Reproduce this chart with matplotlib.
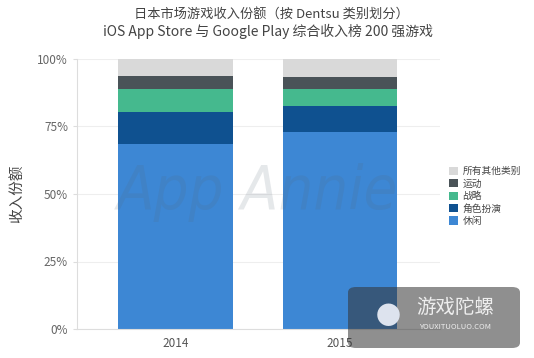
import matplotlib
matplotlib.use("Agg")
import matplotlib.pyplot as plt
from matplotlib.patches import FancyBboxPatch, Patch
from matplotlib.ticker import FuncFormatter

plt.rcParams['font.family'] = ['Noto Sans CJK SC', 'DejaVu Sans']

years = ['2014', '2015']
categories = ['休闲', '角色扮演', '战略', '运动', '所有其他类别']
casual = [68.5, 72.8]
rpg = [12.0, 9.9]
strategy = [8.4, 6.2]
sports = [4.8, 4.5]
other = [6.3, 6.6]
series = [casual, rpg, strategy, sports, other]
colors = ['#3d87d4', '#0f5190', '#45b98e', '#4a5358', '#d9d9d9']
yticks = [0, 25, 50, 75, 100]

fig = plt.figure(figsize=(5.34, 3.58), dpi=100)
W, H = 534, 358
ax = fig.add_axes([77 / W, 1 - 329 / H, (440 - 77) / W, (329 - 59) / H])

x = list(range(len(years)))
bottom = [0.0] * len(years)
for vals, col in zip(series, colors):
    ax.bar(x, vals, bottom=bottom, width=0.695, color=col, zorder=2)
    bottom = [b + v for b, v in zip(bottom, vals)]

ax.set_xlim(-0.6, 1.61)
ax.set_ylim(0, 100)
ax.set_yticks(yticks)
ax.yaxis.set_major_formatter(FuncFormatter(lambda v, p: f'{int(v)}%'))
ax.set_xticks(x)
ax.set_xticklabels(years)
ax.grid(axis='y', color='#eeeeee', linewidth=0.8, zorder=0)
for s in ['top', 'right']:
    ax.spines[s].set_visible(False)
ax.spines['left'].set_color('#dddddd')
ax.spines['bottom'].set_color('#dddddd')
ax.tick_params(axis='y', colors='#dddddd', labelcolor='#666666', labelsize=8.5, length=3)
ax.tick_params(axis='x', length=0, labelcolor='#555555', labelsize=8.5, pad=6)

fig.text(17 / W, 1 - 194 / H, '收入份额', rotation=90, ha='center', va='center',
         fontsize=10.5, color='#444444')

fig.text(271 / W, 1 - 15 / H, '日本市场游戏收入份额（按 Dentsu 类别划分）', ha='center', va='center',
         fontsize=9.5, color='#444444')
fig.text(268 / W, 1 - 31 / H, 'iOS App Store 与 Google Play 综合收入榜 200 强游戏', ha='center', va='center',
         fontsize=10, color='#444444')

# watermark
fig.text(258 / W, 1 - 193 / H, 'App Annie', ha='center', va='center', fontsize=44,
         style='italic', color='#556677', alpha=0.15, family='DejaVu Sans',
         stretch='condensed', zorder=5)

handles = [Patch(facecolor=c, edgecolor='none') for c in colors[::-1]]
leg = fig.legend(handles, categories[::-1], loc='center left', bbox_to_anchor=(445 / W, 1 - 196 / H),
                 frameon=False, fontsize=7, handlelength=0.9, handleheight=0.9,
                 handletextpad=0.5, labelspacing=0.25, borderaxespad=0)
for t in leg.get_texts():
    t.set_color('#444444')

# logo box overlay
box = FancyBboxPatch((348 / W, 1 - 348 / H), (520 - 348) / W, (348 - 287) / H,
                     boxstyle='round,pad=0,rounding_size=0.015', transform=fig.transFigure,
                     facecolor='#333333', alpha=0.55, edgecolor='none', zorder=10)
fig.patches.append(box)
fig.text(455 / W, 1 - 307 / H, '游戏陀螺', ha='center', va='center', fontsize=14,
         color='#eeeeee', zorder=11)
fig.text(455 / W, 1 - 327 / H, 'YOUXITUOLUO.COM', ha='center', va='center', fontsize=5.5,
         color='#eeeeee', zorder=11)
fig.text(388 / W, 1 - 317 / H, '●', ha='center', va='center', fontsize=18,
         color='#dde3ee', zorder=11)

fig.savefig('out.png', dpi=100)
